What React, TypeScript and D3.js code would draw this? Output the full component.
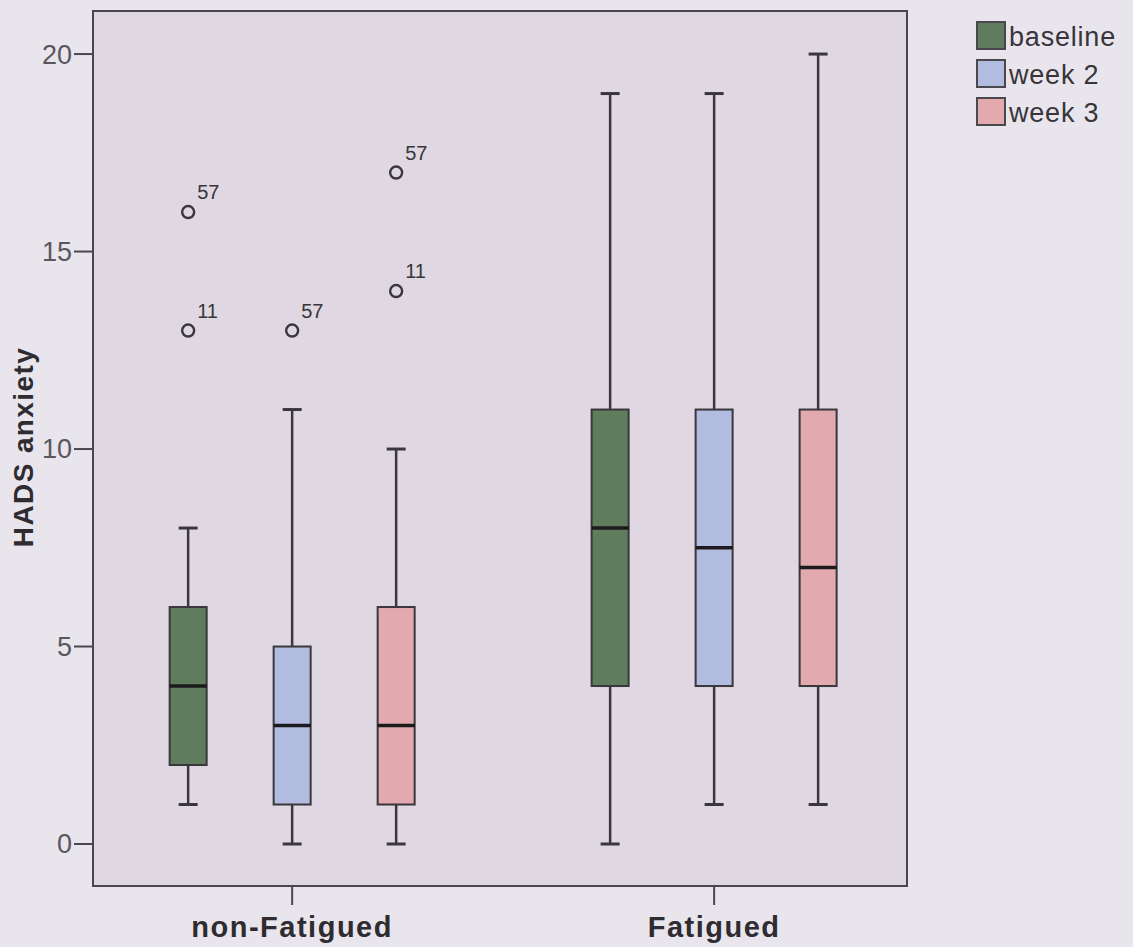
import React from 'react';
import * as d3 from 'd3';

const categories = ['non-Fatigued', 'Fatigued'];
const series = ['baseline', 'week 2', 'week 3'];
const seriesColors = ['#5f7d5d', '#b2bce0', '#e2aaae'];
// [category][series]
const whiskerLow = [[1, 0, 0], [0, 1, 1]];
const q1 = [[2, 1, 1], [4, 4, 4]];
const medians = [[4, 3, 3], [8, 7.5, 7]];
const q3 = [[6, 5, 6], [11, 11, 11]];
const whiskerHigh = [[8, 11, 10], [19, 19, 20]];
const outlierCat = ['non-Fatigued', 'non-Fatigued', 'non-Fatigued', 'non-Fatigued', 'non-Fatigued'];
const outlierSeries = ['baseline', 'baseline', 'week 2', 'week 3', 'week 3'];
const outlierValues = [16, 13, 13, 17, 14];
const outlierLabels = ['57', '11', '57', '57', '11'];
const yTicks = [0, 5, 10, 15, 20];

const W = 1133, H = 947;
const plot = { left: 93, right: 907, top: 11, bottom: 886 };

export default function App() {
  const y = d3.scaleLinear().domain([-1.063, 21.09]).range([plot.bottom, plot.top]);
  const x = d3.scalePoint<string>().domain(categories).range([plot.left, plot.right]).padding(0.4645).align(0.508);
  const sub = d3.scaleBand<string>().domain(series).range([-156, 156]).padding(0);
  const boxW = 37;
  const capW = 19;
  const font = 'Arial, "Liberation Sans", Helvetica, sans-serif';
  const dark = '#3a373c';

  return (
    <svg width={W} height={H} style={{ position: 'absolute', left: 0, top: 0, background: '#e9e5ed' }} fontFamily={font}>
      <rect x={0} y={0} width={W} height={H} fill="#e9e5ed" />
      <rect x={plot.left} y={plot.top} width={plot.right - plot.left} height={plot.bottom - plot.top} fill="#dfd8e3" stroke="#4a474d" strokeWidth={2} />
      {/* y axis */}
      {yTicks.map(t => (
        <g key={t}>
          <line x1={74} x2={plot.left} y1={y(t)} y2={y(t)} stroke="#4a474d" strokeWidth={2} />
          <text x={72} y={y(t)} dy="0.35em" textAnchor="end" fontSize={27} fill="#5a575c">{t}</text>
        </g>
      ))}
      <text transform={`translate(33, ${(y(0) + y(20)) / 2 - 2}) rotate(-90)`} textAnchor="middle" fontSize={28} fontWeight="bold" letterSpacing={1.4} fill="#2e2c30">HADS anxiety</text>
      {/* x axis */}
      {categories.map(c => (
        <g key={c}>
          <line x1={x(c)!} x2={x(c)!} y1={plot.bottom} y2={plot.bottom + 19} stroke="#4a474d" strokeWidth={2} />
          <text x={x(c)!} y={937} textAnchor="middle" fontSize={29} fontWeight="bold" letterSpacing={1.5} fill="#2e2c30">{c}</text>
        </g>
      ))}
      {/* boxes */}
      {categories.map((c, ci) => series.map((s, si) => {
        const cx = x(c)! + sub(s)! + sub.bandwidth() / 2;
        return (
          <g key={c + s}>
            <line x1={cx} x2={cx} y1={y(whiskerHigh[ci][si])} y2={y(q3[ci][si])} stroke={dark} strokeWidth={2.5} />
            <line x1={cx} x2={cx} y1={y(q1[ci][si])} y2={y(whiskerLow[ci][si])} stroke={dark} strokeWidth={2.5} />
            <line x1={cx - capW / 2} x2={cx + capW / 2} y1={y(whiskerHigh[ci][si])} y2={y(whiskerHigh[ci][si])} stroke={dark} strokeWidth={3} />
            <line x1={cx - capW / 2} x2={cx + capW / 2} y1={y(whiskerLow[ci][si])} y2={y(whiskerLow[ci][si])} stroke={dark} strokeWidth={3} />
            <rect x={cx - boxW / 2} y={y(q3[ci][si])} width={boxW} height={y(q1[ci][si]) - y(q3[ci][si])} fill={seriesColors[si]} stroke={dark} strokeWidth={2} />
            <line x1={cx - boxW / 2} x2={cx + boxW / 2} y1={y(medians[ci][si])} y2={y(medians[ci][si])} stroke="#1c1a1d" strokeWidth={3.5} />
          </g>
        );
      }))}
      {/* outliers */}
      {outlierValues.map((v, i) => {
        const cx = x(outlierCat[i])! + sub(outlierSeries[i])! + sub.bandwidth() / 2;
        const cy = y(v);
        return (
          <g key={i}>
            <circle cx={cx} cy={cy} r={6} fill="none" stroke={dark} strokeWidth={2.4} />
            <text x={cx + 9} y={cy - 13} fontSize={20} fill="#38353a">{outlierLabels[i]}</text>
          </g>
        );
      })}
      {/* legend */}
      {series.map((s, i) => (
        <g key={s}>
          <rect x={977} y={22 + i * 38} width={28} height={27} fill={seriesColors[i]} stroke="#4a474d" strokeWidth={2} />
          <text x={1009} y={46 + i * 38} fontSize={27} letterSpacing={0.8} fill="#38353a">{s}</text>
        </g>
      ))}
    </svg>
  );
}
